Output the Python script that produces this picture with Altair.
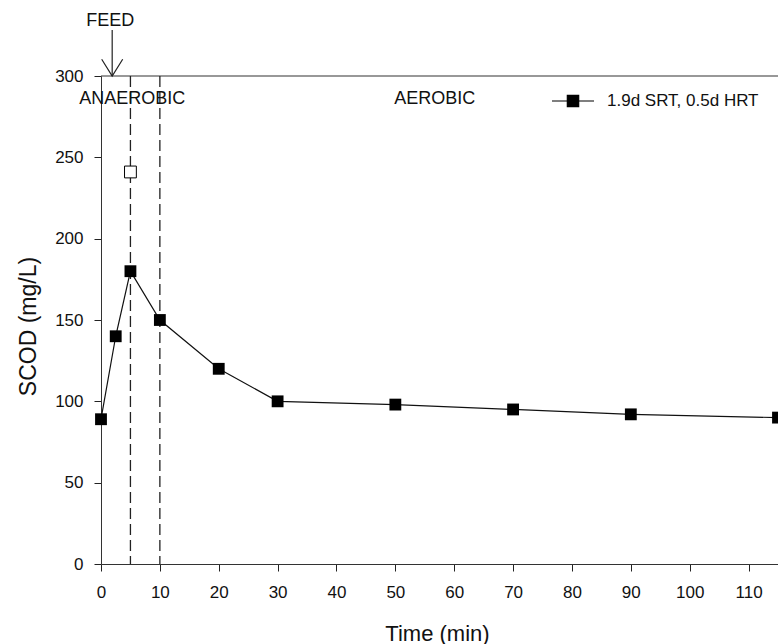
import altair as alt
import pandas as pd

# ---- data ----
times = [0, 2.5, 5, 10, 20, 30, 50, 70, 90, 115]
scod = [89, 140, 180, 150, 120, 100, 98, 95, 92, 90]
series_name = "1.9d SRT, 0.5d HRT"

open_time = [5]
open_scod = [241]

phase_lines = [5, 10]
feed_time = 1.9

x_ticks = [0, 10, 20, 30, 40, 50, 60, 70, 80, 90, 100, 110]
y_ticks = [0, 50, 100, 150, 200, 250, 300]

labels_text = ["ANAEROBIC", "AEROBIC"]
labels_x = [-3.7, 49.8]
labels_y = [282.5, 282.5]

FONT = "Liberation Sans"
INK = "#111111"

df = pd.DataFrame({"t": times, "c": scod, "series": [series_name] * len(times)})
df_open = pd.DataFrame({"t": open_time, "c": open_scod})
df_lines = pd.DataFrame({"t": phase_lines})
df_labels = pd.DataFrame({"t": labels_x, "c": labels_y, "txt": labels_text})
df_feed = pd.DataFrame({"t": [feed_time], "c": [300], "c2": [328.3], "txt": ["FEED"], "ct": [330.5]})

xs = alt.Scale(domain=[0, 115], nice=False, zero=False)
ys = alt.Scale(domain=[0, 300], nice=False)

x_axis = alt.Axis(values=x_ticks, title="Time (min)", labelFontSize=17, titleFontSize=22,
                  labelFont=FONT, titleFont=FONT, labelColor=INK, titleColor=INK,
                  tickSize=7, tickColor="#222", domainColor="#333", labelPadding=13,
                  labelFlush=False, labelOverlap=False,
                  titleFontWeight="normal", grid=False,
                  titleBaseline="alphabetic", titleY=76, titleX=336)
y_axis = alt.Axis(values=y_ticks, title="SCOD (mg/L)", labelFontSize=17, titleFontSize=23,
                  labelFont=FONT, titleFont=FONT, labelColor=INK, titleColor=INK,
                  tickSize=7, tickColor="#222", domainColor="#333", labelPadding=11,
                  labelFlush=False, labelOverlap=False,
                  titleFontWeight="normal", grid=False,
                  titleBaseline="alphabetic", titleAngle=-90, titleX=-66, titleY=250)

X = alt.X("t:Q", scale=xs, axis=x_axis)
Y = alt.Y("c:Q", scale=ys, axis=y_axis)

top_rule = alt.Chart(df_feed).mark_rule(color="#333", strokeWidth=1.2).encode(
    y=alt.Y("c:Q", scale=ys))

dashed = alt.Chart(df_lines).mark_rule(color="#222", strokeWidth=1.3, strokeDash=[11, 5]).encode(
    x=alt.X("t:Q", scale=xs))

line = alt.Chart(df).mark_line(color="#111", strokeWidth=1.2).encode(x=X, y=Y)

legend_path = "M-1,0H1M-0.27,-0.27H0.27V0.27H-0.27Z"
pts = alt.Chart(df).mark_point(shape="square", filled=True, size=140, opacity=1).encode(
    x=X, y=Y,
    color=alt.Color("series:N", scale=alt.Scale(range=["#000000"]),
                    legend=alt.Legend(title=None, orient="none", legendX=450, legendY=3,
                                      symbolType=legend_path, symbolSize=1764,
                                      symbolStrokeColor="#000", symbolStrokeWidth=1.2,
                                      symbolFillColor="#000",
                                      labelFont=FONT, labelFontSize=17, labelColor=INK,
                                      labelOffset=12, padding=0, labelLimit=300)))

open_pt = alt.Chart(df_open).mark_point(shape="square", filled=True, size=140, fill="white",
                                         stroke="#000", strokeWidth=1, opacity=1).encode(
    x=alt.X("t:Q", scale=xs), y=alt.Y("c:Q", scale=ys))

labels = alt.Chart(df_labels).mark_text(align="left", baseline="alphabetic", font=FONT,
                                         fontSize=18, color=INK).encode(
    x=alt.X("t:Q", scale=xs), y=alt.Y("c:Q", scale=ys), text="txt:N")

feed_line = alt.Chart(df_feed).mark_rule(color="#222", strokeWidth=1.2).encode(
    x=alt.X("t:Q", scale=xs), y=alt.Y("c:Q", scale=ys), y2="c2:Q")

feed_head = alt.Chart(df_feed).mark_point(shape="M-1,-1.6L0,0L1,-1.6", size=441, filled=False,
                                           stroke="#222", strokeWidth=1.2, opacity=1).encode(
    x=alt.X("t:Q", scale=xs), y=alt.Y("c:Q", scale=ys))

feed_text = alt.Chart(df_feed).mark_text(align="center", baseline="alphabetic", font=FONT,
                                          fontSize=18, color=INK, dx=-2).encode(
    x=alt.X("t:Q", scale=xs), y=alt.Y("ct:Q", scale=ys), text="txt:N")

chart = alt.layer(top_rule, dashed, line, pts, open_pt, labels, feed_line, feed_head, feed_text).properties(
    width=677, height=488,
    autosize=alt.AutoSizeParams(type="none"),
    padding={"left": 101, "top": 76, "right": 0, "bottom": 80},
    background="white",
).configure_view(stroke=None)

chart.save("out.html", embed_options={"renderer": "svg", "actions": False})
